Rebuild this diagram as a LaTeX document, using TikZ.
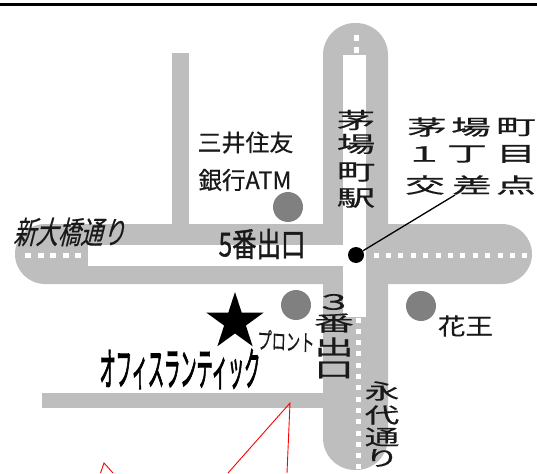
\documentclass[tikz,border=0pt]{standalone}
\usepackage{fontspec}
\setmainfont{Noto Sans CJK JP}
\newfontfamily\medf[FakeBold=0.5]{Noto Sans CJK JP}
\newfontfamily\strongf[FakeBold=1.2]{Noto Sans CJK JP}
\newfontfamily\heavyf[FakeBold=3]{Noto Sans CJK JP}
\usetikzlibrary{shapes.geometric}
\newcommand{\fsz}[1]{\fontsize{#1}{#1}\selectfont}
\definecolor{roadgray}{HTML}{BEBEBE}
\definecolor{spotgray}{HTML}{808080}
\tikzset{
  road/.style={fill=roadgray,draw=none},
  gap/.style={fill=white,draw=none},
  spot/.style={circle,fill=spotgray,draw=none,minimum size=30pt,inner sep=0pt},
  lab/.style={inner sep=0pt,transform shape,text=black!90,font=\medf},
  redline/.style={draw=red,line width=0.9pt},
}
\begin{document}
\begin{tikzpicture}[x=1pt,y=-1pt]
\useasboundingbox (0,0) rectangle (537,473);
\fill[black] (0,2.8) rectangle (537,6.5);
% roads
\fill[road] (172,53) rectangle (189,226);
\fill[road] (42,393) rectangle (325,408);
\fill[road,rounded corners=30pt] (15,224) rectangle (532,284);
\fill[road,rounded corners=32pt] (323,23) rectangle (388,470);
\fill[gap] (88,245) rectangle (366,266);
\fill[gap] (343,55) rectangle (366,317);
% dashes
\foreach \x in {376,388.4,...,526} \fill[white] (\x-2.5,252.5) rectangle (\x+2.5,257.5);
\foreach \x in {28,40.5,53,65.5,78} \fill[white] (\x-3,252.5) rectangle (\x+3,257.5);
\foreach \y in {320,331.3,...,470} \fill[white] (355.5,\y-2.5) rectangle (360.5,\y+2.5);
\foreach \y in {38,50} \fill[white] (353.5,\y-3) rectangle (358.5,\y+3);
% spots
\node[spot] (atm) at (288,207) {};
\node[spot] (pront) at (296,305) {};
\node[spot] (kao) at (421,306) {};
\node[star,star points=5,star point ratio=2.618,fill=black,draw=none,minimum size=60pt,inner sep=0pt] (office) at (235,322) {};
% labels
\node[lab,xscale=1.02] (mitsui) at (245.5,142.5) {\fsz{23.5}三井住友};
\node[lab,xscale=.98] (ginko) at (245,180) {\fsz{24}銀行ATM};
\node[lab,xslant=.25,xscale=.72] (shin) at (72,232) {\fsz{31}新大橋通り};
\node[lab,xscale=.74,font=\strongf] (five) at (262,244) {\fsz{33}5番出口};
\foreach \c/\y in {茅/120,場/144,町/172,駅/198}
  \node[lab,xscale=1.75] at (356,\y) {\fsz{22}\c};
\foreach \c/\x in {茅/427,場/471,町/516}
  \node[lab,xscale=1.9] at (\x,127) {\fsz{21}\c};
\foreach \c/\x in {１/424,丁/467,目/516}
  \node[lab,xscale=1.9] at (\x,154) {\fsz{21}\c};
\foreach \c/\x in {交/425,差/472,点/516}
  \node[lab,xscale=1.9] at (\x,185) {\fsz{21}\c};
\coordinate (kousa) at (455,195);
\node[lab,xscale=1.2] (hana) at (465.5,326) {\fsz{23}花王};
\foreach \c/\y in {３/302,番/323,出/347,口/370}
  \node[lab,xscale=1.9] at (334,\y) {\fsz{21}\c};
\node[lab,xscale=.62,rotate=-2] (pr) at (286,341) {\fsz{23}プロント};
\node[lab,xscale=.36,font=\heavyf,text=black] (name) at (180,369) {\fsz{45}オフィスランティック};
\foreach \c/\y in {永/391,代/415,通/437,り/458}
  \node[lab,xscale=1.65] at (382,\y) {\fsz{21}\c};
% crossing and leader
\node[circle,fill=black,draw=none,minimum size=16pt,inner sep=0pt] (cross) at (356,255) {};
\draw[black,line width=1.3pt] (cross) -- (kousa);
% red lines
\coordinate (ra) at (290,403);
\coordinate (rb) at (228,473);
\coordinate (rc) at (287,473);
\coordinate (rd) at (104,463);
\coordinate (re) at (100.5,473);
\coordinate (rf) at (113,473);
\draw[redline,line join=miter] (rb) -- (ra) -- (rc);
\draw[redline,line join=miter] (re) -- (rd) -- (rf);
\end{tikzpicture}
\end{document}
